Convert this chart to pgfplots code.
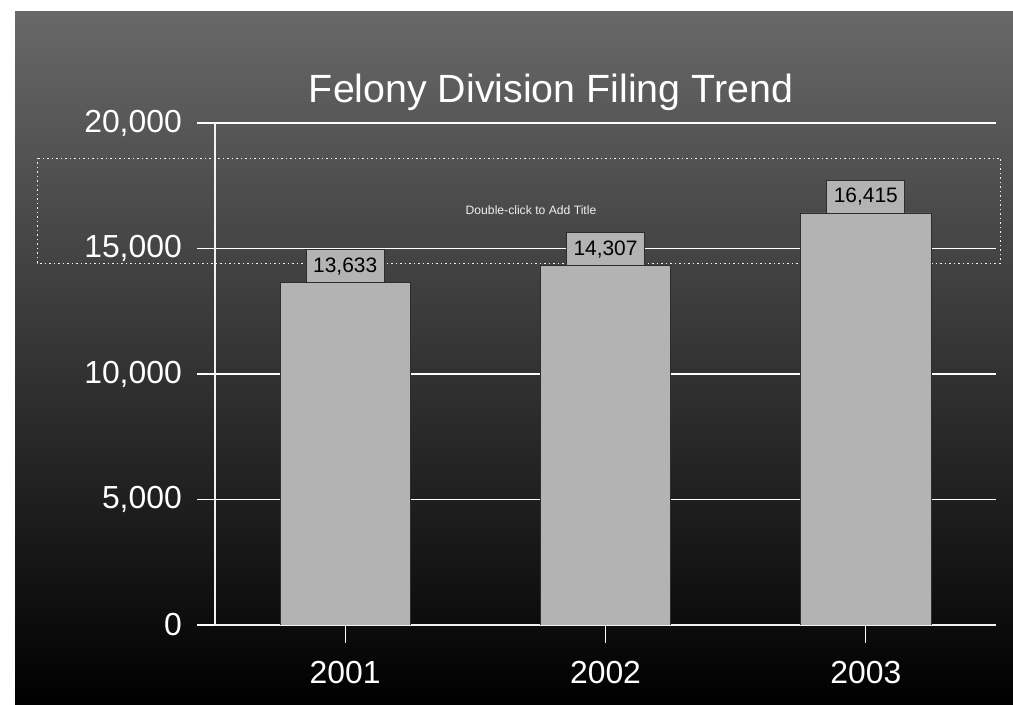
\documentclass[border=0pt]{standalone}
\usepackage{pgfplots}
\pgfplotsset{compat=1.18}
\usepackage{fontspec}
\setmainfont{Liberation Sans}
\definecolor{bargray}{RGB}{179,179,179}
\definecolor{bgtop}{RGB}{104,104,104}
\definecolor{edgegray}{RGB}{45,45,45}
\begin{document}
\begin{tikzpicture}[x=1bp,y=1bp]
\useasboundingbox (0,0) rectangle (1013,705);
\fill[white] (0,0) rectangle (1013,705);
\shade[top color=bgtop, bottom color=black] (15,0) rectangle (1013,693);
\draw[white!90!gray, line width=0.9bp, dash pattern=on 1.5bp off 3bp] (37,547) rectangle (1000,442);
\node[text=white!88!gray, font=\fontsize{12.2}{14}\selectfont] at (531,495) {Double-click to Add Title};
\node[anchor=base, text=white, font=\fontsize{39.5}{46}\selectfont, inner sep=0pt] at (551,602) {Felony Division Filing Trend};
\begin{axis}[
  at={(215bp,80bp)}, anchor=south west,
  width=781bp, height=502bp, scale only axis,
  xmin=-0.5, xmax=2.5, ymin=0, ymax=20000,
  xtick={0,1,2}, xticklabels={2001,2002,2003},
  ytick={0,5000,10000,15000,20000},
  axis x line*=bottom, axis y line*=left,
  ymajorgrids,
  grid style={white, line width=1.2bp},
  axis line style={white!90!gray, line width=1.2bp},
  tick style={white, line width=1.2bp},
  tick align=outside, major tick length=18bp,
  ticklabel style={text=white, font=\fontsize{32}{38}\selectfont},
  xticklabel style={anchor=base, inner sep=0pt, yshift=-41bp},
  yticklabel style={anchor=east, inner sep=0pt, xshift=-15bp},
  scaled y ticks=false,
  /pgf/number format/assume math mode=true,
  /pgf/number format/1000 sep={,},
  ybar, bar width=0.5,
  nodes near coords,
  nodes near coords style={fill=bargray, draw=edgegray, line width=0.8bp, text=black,
    font=\fontsize{21}{25}\selectfont, inner xsep=7bp, inner ysep=0pt,
    minimum height=33bp, anchor=south, yshift=0pt, outer sep=0pt},
]
\addplot[fill=bargray, draw=edgegray, line width=0.8bp] coordinates {(0,13633) (1,14307) (2,16415)};
\end{axis}
\end{tikzpicture}
\end{document}
